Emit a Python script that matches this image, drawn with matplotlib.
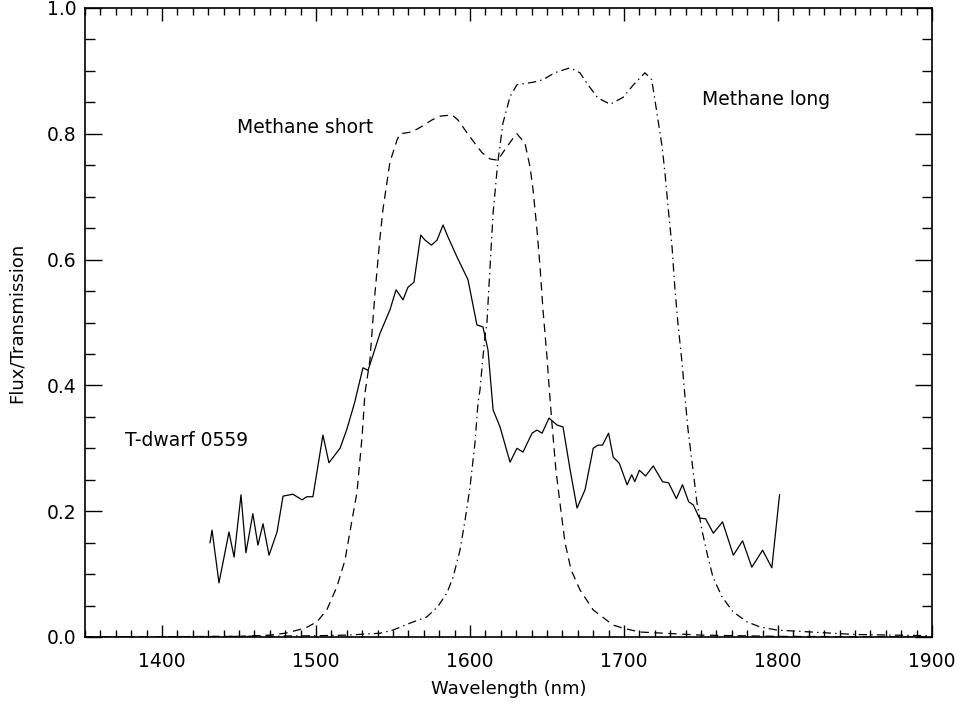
import matplotlib
matplotlib.use("Agg")
import matplotlib.pyplot as plt
from matplotlib.ticker import MultipleLocator

# T-dwarf 0559 spectrum (solid)
wl_dwarf = [1431.2, 1432.5, 1437, 1443.5, 1446.8, 1451.3, 1454.5, 1459, 1462.3, 1465.6,
            1469.5, 1474.7, 1478.6, 1485, 1491, 1494, 1498, 1504.5, 1508.4, 1515.6,
            1520, 1525, 1530.5, 1533.8, 1541.6, 1548, 1552, 1556.5, 1559.7, 1563.6,
            1568, 1570.8, 1575, 1578.6, 1582.5, 1585.7, 1591.6, 1598.7, 1604.5, 1608.4,
            1611.7, 1615, 1619.5, 1626, 1630.5, 1634.4, 1640.3, 1643.5, 1646.8, 1651.3,
            1656.5, 1660.4, 1665, 1669.5, 1674.7, 1680, 1683, 1686, 1690, 1693,
            1697, 1702, 1705, 1707, 1710, 1714, 1719, 1725, 1729, 1734,
            1738, 1742, 1745, 1749, 1753, 1758, 1764, 1771, 1777, 1783,
            1790, 1796, 1801]
flux_dwarf = [0.150, 0.170, 0.086, 0.167, 0.127, 0.226, 0.134, 0.196, 0.146, 0.180,
              0.130, 0.167, 0.224, 0.227, 0.218, 0.223, 0.223, 0.321, 0.277, 0.300,
              0.330, 0.372, 0.428, 0.424, 0.483, 0.520, 0.552, 0.536, 0.556, 0.564,
              0.639, 0.631, 0.623, 0.631, 0.655, 0.636, 0.604, 0.568, 0.496, 0.493,
              0.456, 0.361, 0.334, 0.278, 0.300, 0.294, 0.324, 0.329, 0.324, 0.348,
              0.337, 0.334, 0.266, 0.205, 0.234, 0.300, 0.305, 0.305, 0.324, 0.286,
              0.276, 0.242, 0.258, 0.247, 0.265, 0.256, 0.272, 0.247, 0.245, 0.220,
              0.242, 0.215, 0.210, 0.189, 0.188, 0.165, 0.183, 0.130, 0.153, 0.111,
              0.138, 0.110, 0.226]

# Methane short filter (dashed)
wl_short = [1350, 1450, 1470, 1480, 1492.9, 1500.6, 1507, 1513.6, 1518.8, 1523.4,
            1526.6, 1529.9, 1531.8, 1535, 1538.3, 1541.6, 1543.5, 1548, 1552.6, 1554.5,
            1562.3, 1567.5, 1575.3, 1580.5, 1588.3, 1592.2, 1600, 1607.8, 1613, 1618,
            1622.7, 1628, 1630.5, 1635.7, 1639, 1641, 1643.5, 1645.5, 1647.4, 1650,
            1651.3, 1653.2, 1655.8, 1658.4, 1661.7, 1665.6, 1671.4, 1680, 1692.9, 1699.4,
            1710, 1750, 1800, 1900]
trans_short = [0.0, 0.001, 0.003, 0.006, 0.014, 0.024, 0.043, 0.080, 0.122, 0.186,
               0.230, 0.318, 0.388, 0.440, 0.547, 0.636, 0.680, 0.755, 0.790, 0.800,
               0.803, 0.810, 0.822, 0.828, 0.830, 0.822, 0.795, 0.770, 0.760, 0.758,
               0.775, 0.793, 0.800, 0.785, 0.747, 0.710, 0.647, 0.588, 0.520, 0.445,
               0.400, 0.340, 0.265, 0.213, 0.150, 0.107, 0.075, 0.043, 0.019, 0.014,
               0.008, 0.003, 0.001, 0.0]

# Methane long filter (dash-dot)
wl_long = [1350, 1450, 1500, 1520, 1541.6, 1550, 1561, 1572, 1579, 1585,
           1589, 1593.5, 1596.8, 1600, 1603.2, 1605.2, 1606.5, 1607.8, 1609.7, 1611,
           1613, 1615, 1618, 1621.4, 1626, 1630.5, 1641, 1647.4, 1655, 1665,
           1671.4, 1676, 1683, 1691, 1699.4, 1705.8, 1713.6, 1718, 1721.4, 1724.7,
           1726.6, 1728.6, 1731.2, 1733, 1735, 1737.7, 1739.6, 1741.6, 1744.8, 1747.4,
           1750.6, 1754.5, 1757.8, 1763.6, 1770.8, 1780, 1788.3, 1799.4, 1850, 1900]
trans_long = [0.0, 0.001, 0.002, 0.003, 0.006, 0.011, 0.022, 0.032, 0.048, 0.070,
              0.095, 0.138, 0.186, 0.238, 0.308, 0.372, 0.393, 0.429, 0.477, 0.500,
              0.588, 0.674, 0.754, 0.817, 0.859, 0.878, 0.882, 0.886, 0.897, 0.905,
              0.897, 0.880, 0.857, 0.847, 0.858, 0.877, 0.897, 0.886, 0.833, 0.780,
              0.738, 0.684, 0.620, 0.556, 0.499, 0.436, 0.382, 0.329, 0.266, 0.213,
              0.170, 0.127, 0.095, 0.064, 0.040, 0.024, 0.016, 0.011, 0.004, 0.002]

plt.rcParams['font.family'] = ['DejaVu Sans']
plt.rcParams['lines.scale_dashes'] = False

fig = plt.figure(figsize=(9.6, 7.04), dpi=100)
ax = fig.add_axes([85 / 960, 1 - 637 / 704, 847 / 960, 629 / 704])

ax.plot(wl_dwarf, flux_dwarf, color='black', lw=0.9)
ax.plot(wl_short, trans_short, color='black', lw=0.9, dashes=(6, 4))
ax.plot(wl_long, trans_long, color='black', lw=0.9, dashes=(6, 3, 1, 3))

txt = dict(fontsize=13.5, ha='left', va='center', color='black')
ax.text(1449, 0.81, 'Methane short', **txt)
ax.text(1750.5, 0.855, 'Methane long', **txt)
ax.text(1376, 0.313, 'T-dwarf 0559', **txt)

ax.set_xlim(1350, 1900)
ax.set_ylim(0, 1.0)
ax.xaxis.set_major_locator(MultipleLocator(100))
ax.xaxis.set_minor_locator(MultipleLocator(10))
ax.yaxis.set_major_locator(MultipleLocator(0.2))
ax.yaxis.set_minor_locator(MultipleLocator(0.05))
ax.yaxis.set_major_formatter(plt.FormatStrFormatter('%.1f'))

ax.tick_params(axis='both', which='both', direction='in', top=True, right=True,
               labelsize=13.5, width=1)
ax.tick_params(axis='x', which='major', length=9, pad=11)
ax.tick_params(axis='x', which='minor', length=5)
ax.tick_params(axis='y', which='major', length=12.5, pad=6)
ax.tick_params(axis='y', which='minor', length=7)
for s in ax.spines.values():
    s.set_linewidth(1.2)

ax.set_xlabel('Wavelength (nm)', fontsize=13, labelpad=6)
ax.set_ylabel('Flux/Transmission', fontsize=13, labelpad=15)

fig.savefig('out.png', dpi=100)
